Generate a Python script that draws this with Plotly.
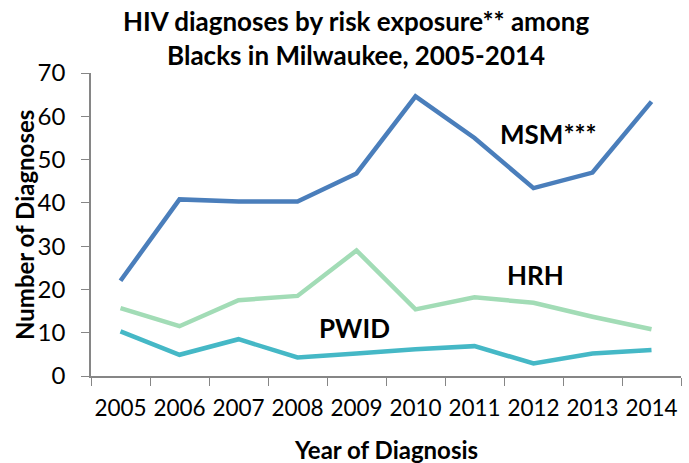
import plotly.graph_objects as go

years = ["2005", "2006", "2007", "2008", "2009", "2010", "2011", "2012", "2013", "2014"]
msm = [22, 40.8, 40.3, 40.3, 46.8, 64.6, 55, 43.4, 47, 63.4]
hrh = [15.7, 11.5, 17.5, 18.5, 29, 15.4, 18.2, 16.9, 13.7, 10.8]
pwid = [10.3, 4.9, 8.5, 4.3, 5.2, 6.2, 6.9, 2.9, 5.2, 6.0]
y_ticks = [0, 10, 20, 30, 40, 50, 60, 70]

FONT = "Lato"
W, H = 689, 463
L, R, T, B = 91, 8, 73, 87
pw, ph = W - L - R, H - T - B

def px(x):
    return (x - L) / pw

def py(y):
    return (H - B - y) / ph

fig = go.Figure()
fig.add_trace(go.Scatter(x=years, y=msm, mode="lines", name="MSM***",
                         line=dict(color="#4a7ebb", width=4.5)))
fig.add_trace(go.Scatter(x=years, y=hrh, mode="lines", name="HRH",
                         line=dict(color="#a2dcb6", width=4.5)))
fig.add_trace(go.Scatter(x=years, y=pwid, mode="lines", name="PWID",
                         line=dict(color="#45b8c6", width=4.5)))

ann_font = dict(family=FONT, size=26, color="black")
annotations = [
    dict(x=7.25, y=56.0, xref="x", yref="y", text="<b>MSM***</b>", showarrow=False,
         font=ann_font, xanchor="center", yanchor="middle"),
    dict(x=7.04, y=23.3, xref="x", yref="y", text="<b>HRH</b>", showarrow=False,
         font=ann_font, xanchor="center", yanchor="middle"),
    dict(x=3.96, y=11.1, xref="x", yref="y", text="<b>PWID</b>", showarrow=False,
         font=ann_font, xanchor="center", yanchor="middle"),
    dict(x=px(386), y=py(449), xref="paper", yref="paper", text="<b>Year of Diagnosis</b>",
         showarrow=False, xanchor="center", yanchor="middle",
         font=dict(family=FONT, size=24, color="black")),
    dict(x=px(24), y=py(225), xref="paper", yref="paper", text="<b>Number of Diagnoses</b>",
         textangle=-90, showarrow=False, xanchor="center", yanchor="middle",
         font=dict(family=FONT, size=24, color="black")),
    dict(x=px(356), y=py(38), xref="paper", yref="paper",
         text="<b>HIV diagnoses by risk exposure** among<br>Blacks in Milwaukee, 2005-2014</b>",
         showarrow=False, xanchor="center", yanchor="middle",
         font=dict(family=FONT, size=26, color="black")),
]

fig.update_layout(
    width=W, height=H,
    margin=dict(l=L, r=R, t=T, b=B),
    paper_bgcolor="white", plot_bgcolor="white",
    showlegend=False,
    annotations=annotations,
    font=dict(family=FONT, color="black"),
)
fig.update_xaxes(
    type="category", tickson="boundaries", ticks="outside", ticklen=8,
    tickcolor="#868686", showline=True, linecolor="#868686", linewidth=1.5,
    showgrid=False, tickangle=0, tickfont=dict(family=FONT, size=22.5, color="black"),
    ticklabelstandoff=11, range=[-0.5, 9.5],
)
fig.update_yaxes(
    range=[0, 70], tickvals=y_ticks, ticks="outside", ticklen=8,
    tickcolor="#868686", showline=True, linecolor="#868686", linewidth=1.5,
    showgrid=False, zeroline=False, tickfont=dict(family=FONT, size=24, color="black"),
    ticklabelstandoff=11,
)

fig.write_html("out.html")
